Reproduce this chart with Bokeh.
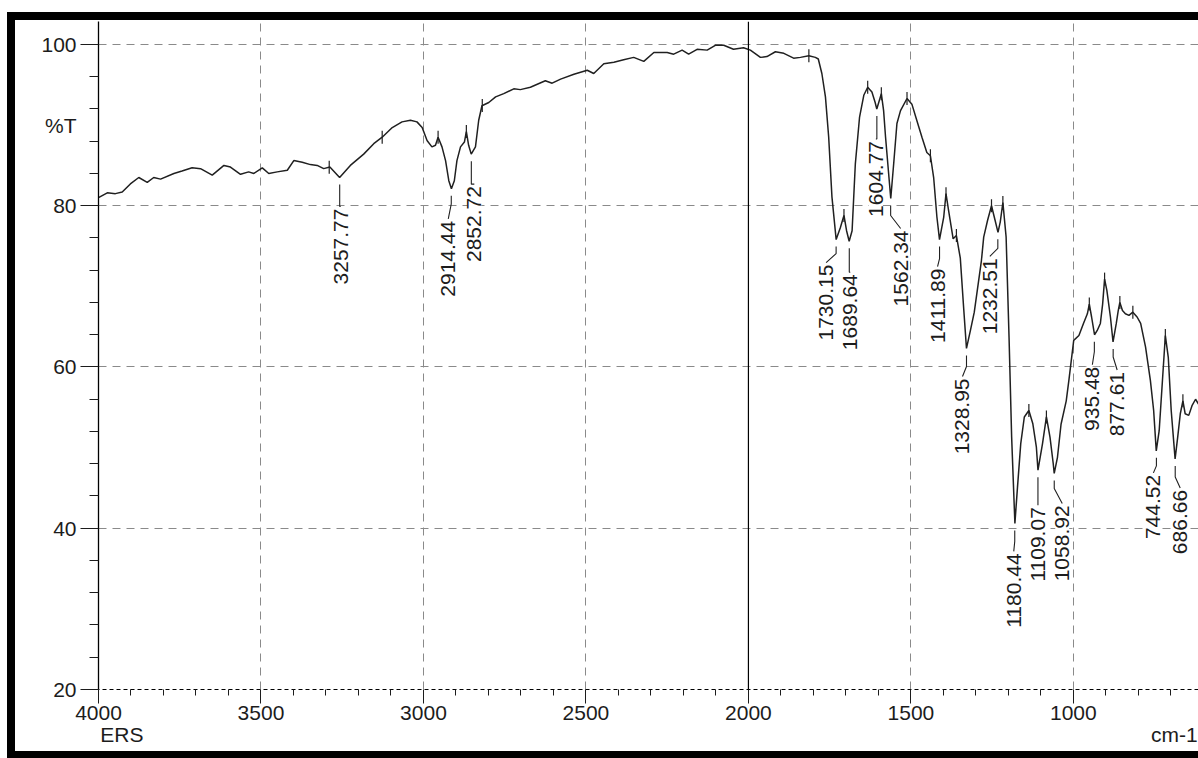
import numpy as np
from bokeh.plotting import figure
from bokeh.layouts import column
from bokeh.models import (Range1d, FixedTicker, Span, LabelSet, LinearAxis,
                          ColumnDataSource)
from bokeh.core.properties import value
from bokeh.embed import file_html
from bokeh.resources import INLINE

# IR spectrum: wavenumber (cm-1) and transmittance (%T)
wavenumber = [
    4000, 3973, 3948, 3927, 3902, 3876, 3850, 3830, 3809, 3768, 3743, 3712, 3686,
    3650, 3614, 3594, 3563, 3538, 3522, 3496, 3476, 3450, 3419, 3399, 3373, 3348,
    3327, 3307, 3288, 3258, 3225, 3184, 3153, 3127, 3096, 3066, 3040, 3020, 3004,
    2989, 2974, 2963, 2955, 2943, 2932, 2922, 2914, 2905, 2897, 2886, 2874, 2868,
    2861, 2853, 2840, 2830, 2820, 2799, 2778, 2753, 2722, 2702, 2671, 2625, 2604,
    2578, 2537, 2496, 2476, 2445, 2414, 2384, 2353, 2322, 2291, 2250, 2230, 2204,
    2184, 2158, 2127, 2102, 2076, 2046, 2015, 1994, 1963, 1943, 1917, 1891, 1861,
    1840, 1814, 1794, 1785, 1774, 1763, 1753, 1743, 1730, 1717, 1706, 1698, 1690,
    1681, 1671, 1658, 1645, 1633, 1620, 1610, 1605, 1591, 1584, 1578, 1562, 1553,
    1543, 1532, 1512, 1497, 1482, 1466, 1451, 1440, 1430, 1420, 1412, 1399, 1392,
    1384, 1370, 1360, 1348, 1338, 1329, 1317, 1305, 1283, 1276, 1264, 1252, 1241,
    1232, 1225, 1217, 1207, 1198, 1190, 1180, 1172, 1162, 1151, 1137, 1125, 1114,
    1109, 1095, 1083, 1072, 1062, 1059, 1049, 1038, 1022, 1014, 999, 983, 969, 957,
    951, 944, 935, 927, 917, 910, 904, 897, 886, 878, 868, 862, 857, 849, 840, 829,
    817, 804, 793, 778, 763, 753, 745, 736, 726, 717, 708, 699, 687, 679, 671, 663,
    656, 645, 635, 624, 615,
]
transmittance = [
    81.0, 81.6, 81.5, 81.7, 82.7, 83.5, 82.9, 83.5, 83.3, 84.0, 84.3, 84.7, 84.6,
    83.8, 85.0, 84.8, 83.9, 84.2, 84.0, 84.7, 84.0, 84.2, 84.4, 85.6, 85.4, 85.1,
    85.0, 84.6, 84.8, 83.5, 85.0, 86.4, 87.7, 88.5, 89.7, 90.4, 90.6, 90.4, 89.7,
    88.1, 87.3, 87.5, 88.5, 87.3, 85.6, 83.1, 82.1, 83.1, 85.6, 87.3, 87.9, 89.2,
    87.5, 86.4, 87.3, 90.6, 92.4, 92.8, 93.5, 93.9, 94.5, 94.4, 94.7, 95.5, 95.2,
    95.7, 96.3, 96.8, 96.4, 97.6, 97.8, 98.1, 98.4, 97.9, 99.0, 99.0, 98.8, 99.3,
    98.8, 99.4, 99.3, 99.9, 99.9, 99.4, 99.6, 99.3, 98.4, 98.5, 99.1, 98.9, 98.3,
    98.4, 98.6, 98.4, 98.2, 96.4, 93.5, 88.5, 81.1, 75.8, 77.3, 78.8, 76.9, 75.6,
    76.9, 85.2, 91.0, 93.7, 94.7, 94.1, 92.8, 92.0, 93.9, 91.8, 88.5, 80.9, 85.2,
    90.2, 91.8, 93.3, 92.6, 90.6, 88.5, 86.6, 86.2, 83.5, 78.6, 75.8, 78.6, 81.5,
    79.4, 75.9, 76.3, 73.5, 67.5, 62.3, 64.5, 66.8, 73.2, 76.1, 78.2, 80.0, 78.2,
    76.7, 78.0, 80.4, 76.1, 63.7, 51.3, 40.6, 45.1, 50.5, 53.8, 54.6, 53.0, 50.1,
    47.2, 50.5, 53.8, 51.3, 48.0, 46.8, 48.8, 52.9, 55.8, 58.3, 63.3, 63.9, 65.4, 66.6,
    67.8, 66.2, 64.0, 64.5, 65.4, 67.8, 70.9, 69.5, 66.2, 63.1, 65.4, 67.0, 68.0, 67.0, 66.6, 66.4,
    66.8, 66.2, 65.4, 62.5, 58.3, 54.6, 49.6, 52.1, 58.3, 63.9, 61.2, 54.6, 48.6, 51.3, 54.2, 55.8,
    54.2, 54.0, 55.2, 56.0, 55.4,
]

# Picked peaks
peak_wavenumber = [3257.77, 2914.44, 2852.72, 1730.15, 1689.64, 1604.77, 1562.34,
                   1411.89, 1328.95, 1232.51, 1180.44, 1109.07, 1058.92, 935.48,
                   877.61, 744.52, 686.66]
peak_transmittance = [83.5, 82.1, 86.4, 75.8, 75.6, 92.0, 80.9, 75.8, 62.3, 76.7,
                      40.6, 47.2, 46.8, 64.0, 63.1, 49.6, 48.6]

# Peak-range limits marked on the trace
limit_wavenumber = [3290, 3127, 2955, 2868, 2819, 1814, 1706, 1633, 1591, 1512, 1440,
                    1392, 1360, 1252, 1217, 1137, 1083, 951, 904, 857, 817, 717, 663]

# Axis ticks and captions
x_major = [4000, 3500, 3000, 2500, 2000, 1500, 1000]
y_major = [20, 40, 60, 80, 100]
y_caption, y_caption_at = "%T", 90
x_captions = {3928: "ERS", 689: "cm-1"}

# Peak label layout in pixels: sideways shift of the label, straight part of the
# leader below the trough, and distance from the trough to the label's end
label_shift = [1, -3, 3, -10, 1, -1, 10, -2, -4, -8, -1, 0, 8, -2, 4, -3, 5]
leader_drop = [29, 15, 30, 14, 31, 30, 17, 19, 18, 16, 18, 25, 15, 17, 15, 15, 18]
label_drop = [31, 32, 32, 25, 33, 32, 32, 29, 30, 26, 30, 37, 32, 32, 30, 24, 31]

FIG_W, FIG_H = 1183, 731
LEFT, TOP, BOTTOM = 83, 1, 62
X0, X1 = 4000, 615
Y0, Y1 = 20, 102.85
FONT = "Liberation Sans"
INK = "#1c1c1c"

p = figure(width=FIG_W, height=FIG_H, x_range=Range1d(X0, X1), y_range=Range1d(Y0, Y1),
           output_backend="svg", toolbar_location=None,
           min_border_left=LEFT, min_border_right=0,
           min_border_top=TOP, min_border_bottom=BOTTOM)
p.outline_line_color = None
p.background_fill_color = "white"
p.border_fill_color = "white"

ppx = (FIG_W - LEFT) / (X0 - X1)
ppu = (FIG_H - TOP - BOTTOM) / (Y1 - Y0)

# inner axes: lines and ticks
xa, ya = p.xaxis[0], p.yaxis[0]
xa.ticker = FixedTicker(ticks=x_major,
                        minor_ticks=[w for w in range(700, 4000, 100) if w % 500])
ya.ticker = FixedTicker(ticks=y_major,
                        minor_ticks=[v for v in range(24, 104, 4) if v % 20])
for ax in (xa, ya):
    ax.major_label_text_font = FONT
    ax.major_label_text_font_size = "21px"
    ax.major_label_text_color = INK
    ax.major_tick_line_color = INK
    ax.minor_tick_line_color = INK
    ax.major_tick_in = 0
    ax.minor_tick_in = 0
xa.major_tick_out = 14
xa.minor_tick_out = 6
xa.major_label_standoff = 2
xa.axis_line_color = "black"
xa.axis_line_dash = "4 3"
ya.major_tick_out = 18
ya.minor_tick_out = 9
ya.major_label_standoff = 0
ya.major_label_overrides = {v: "" for v in y_major}
ya.axis_line_color = "black"
ya.axis_line_width = 1.3

# outer axes: tick values and captions as text only
def caption_axis(cls, ticks, overrides, standoff):
    ax = cls(ticker=FixedTicker(ticks=ticks), major_label_overrides=overrides,
             axis_line_color=None, major_tick_line_color=None,
             minor_tick_line_color=None, major_label_standoff=standoff,
             major_label_text_font=FONT, major_label_text_font_size="21px",
             major_label_text_color=INK)
    ax.major_tick_out = 0
    ax.minor_tick_out = 0
    return ax

y_labels = {v: str(v) for v in y_major}
y_labels[y_caption_at] = y_caption
p.add_layout(caption_axis(LinearAxis, y_major + [y_caption_at], y_labels, 4), "left")
p.add_layout(caption_axis(LinearAxis, list(x_captions), x_captions, 0), "below")

# grid
p.xgrid.ticker = FixedTicker(ticks=[3500, 3000, 2500, 1500, 1000])
p.ygrid.ticker = FixedTicker(ticks=[40, 60, 80, 100])
for g in (p.xgrid[0], p.ygrid[0]):
    g.grid_line_color = "#8a8a8a"
    g.grid_line_dash = "8 6"
    g.grid_line_width = 1

p.add_layout(Span(location=2000, dimension="height", line_color="black", line_width=1.2))

# spectrum trace
p.line(wavenumber, transmittance, line_color="#202020", line_width=1.5)

# peak-range limit ticks across the trace
lim_t = np.interp(limit_wavenumber, wavenumber[::-1], transmittance[::-1])
half = 6.5 / ppu
p.segment(x0=limit_wavenumber, y0=lim_t - half, x1=limit_wavenumber, y1=lim_t + half,
          line_color="#202020", line_width=1.2)

# leaders and rotated peak labels
xs, ys, lx, ly, txt = [], [], [], [], []
for wn, t, dx, v, d in zip(peak_wavenumber, peak_transmittance,
                           label_shift, leader_drop, label_drop):
    x_lab = wn - dx / ppx
    xs.append([wn, wn, x_lab])
    ys.append([t - 7 / ppu, t - v / ppu, t - (d - 2) / ppu])
    lx.append(x_lab)
    ly.append(t - d / ppu)
    txt.append(f"{wn:.2f}")
p.multi_line(xs, ys, line_color="#202020", line_width=1.1)

src = ColumnDataSource(dict(x=lx, y=ly, text=txt))
p.add_layout(LabelSet(x="x", y="y", text="text", source=src, angle=np.pi / 2,
                      text_align="right", text_baseline="middle",
                      text_font=value(FONT), text_font_size=value("21px"),
                      text_color=INK, background_fill_color="white"))

# heavy black frame around the sheet
page = column(p, styles={"margin-left": "7px", "margin-top": "12px",
                         "border-left": "8px solid black",
                         "border-top": "8px solid black",
                         "border-bottom": "7px solid black"})

open("out.html", "w").write(file_html(page, INLINE))
